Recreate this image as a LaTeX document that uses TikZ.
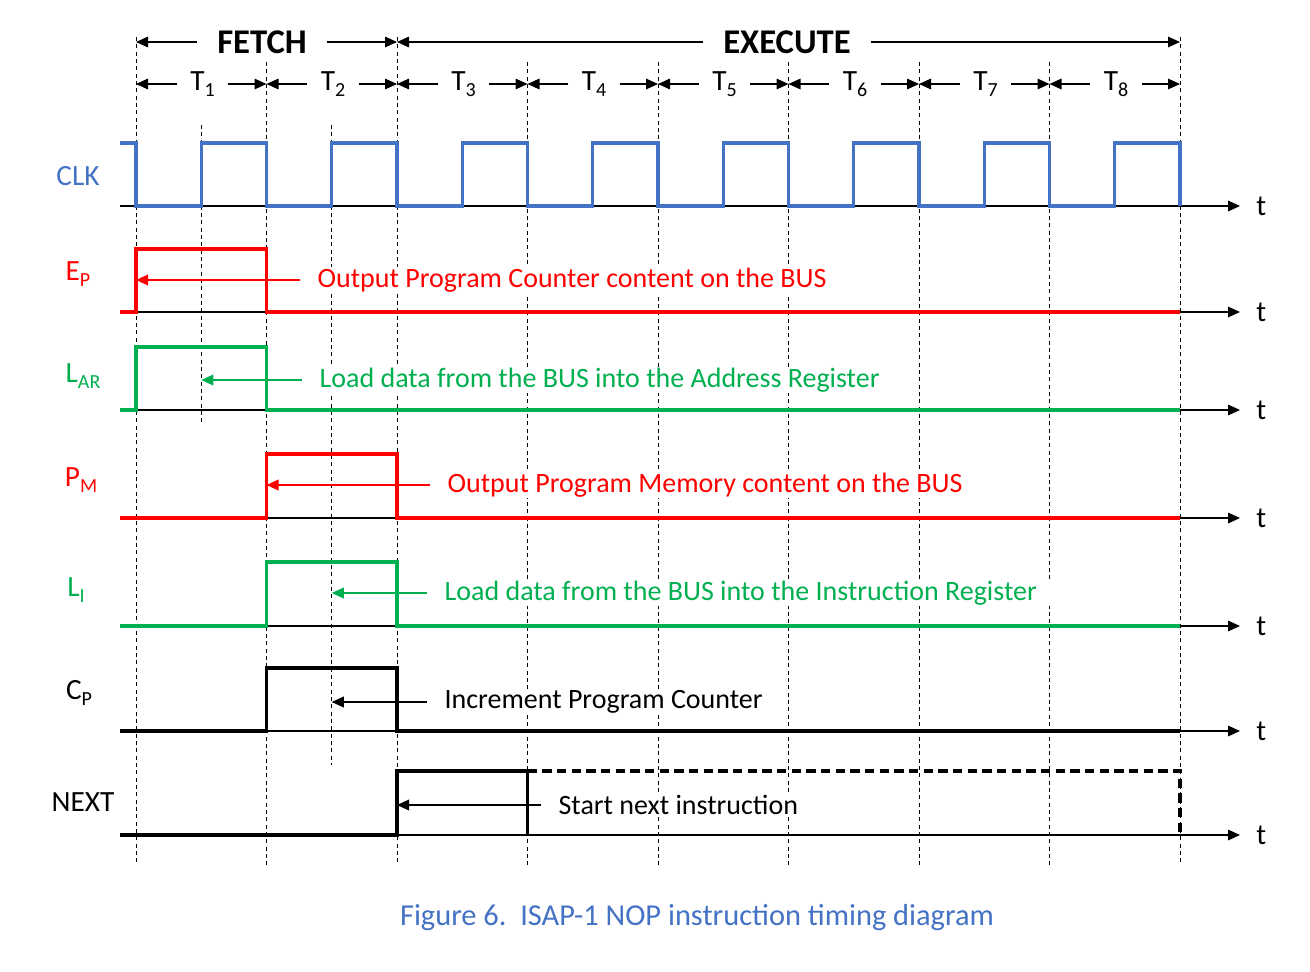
\documentclass[tikz,border=0pt]{standalone}
\usepackage{fontspec}
\setmainfont{Carlito}
\usetikzlibrary{arrows.meta}
\definecolor{clkblue}{RGB}{68,114,196}
\definecolor{sigred}{RGB}{255,0,0}
\definecolor{siggreen}{RGB}{0,176,80}
\newcommand{\lowsub}[1]{\raisebox{-0.45ex}{\fontsize{15}{16}\selectfont #1}}
\tikzset{
  gridline/.style={line width=0.6pt, dash pattern=on 3pt off 2.5pt},
  taxis/.style={line width=0.8pt, -{Triangle[length=9pt,width=8pt]}},
  wave/.style={line width=2.3pt},
  note/.style={line width=1pt, -{Triangle[length=9pt,width=8pt]}},
  span/.style={line width=0.8pt, -{Triangle[length=9pt,width=8pt]}},
  lbl/.style={font=\fontsize{22}{26}\selectfont},
  txt/.style={font=\fontsize{21}{25}\selectfont, fill=white, anchor=west, inner xsep=13pt, inner ysep=1pt},
  tlab/.style={font=\fontsize{22}{26}\selectfont, inner xsep=10pt},
  phase/.style={font=\fontsize{26}{30}\selectfont\bfseries, inner xsep=15pt},
}
\begin{document}
\begin{tikzpicture}[x=0.75pt,y=-0.75pt]
\useasboundingbox (0,0) rectangle (1310,971);
% grid of clock edges
\foreach \i in {0,...,8} \coordinate (g\i) at ({136+130.5*\i},0);
\coordinate (h0) at (201.25,0);
\coordinate (h1) at (331.75,0);
\foreach \i in {0,2,8} \draw[gridline] ({136+130.5*\i},37) -- ({136+130.5*\i},865);
\foreach \i in {1,3,4,5,6,7} \draw[gridline] ({136+130.5*\i},62) -- ({136+130.5*\i},865);
\draw[gridline] (201.25,125) -- (201.25,422);
\draw[gridline] (331.75,125) -- (331.75,765);

% phases
\node[phase] (fetch) at (262,42) {FETCH};
\draw[span] (fetch.west) -- (fetch.west -| g0);
\draw[span] (fetch.east) -- (fetch.east -| g2);
\node[phase] (exec) at (787,42) {EXECUTE};
\draw[span] (exec.west) -- (exec.west -| g2);
\draw[span] (exec.east) -- (exec.east -| g8);

% T states
\foreach \i [evaluate=\i as \j using int(\i-1)] in {1,...,8} {
  \node[tlab] (T\i) at ({136+130.5*\i-64},84) {T\lowsub{\i}};
  \draw[span] (T\i.west) -- (T\i.west -| g\j);
  \draw[span] (T\i.east) -- (T\i.east -| g\i);
}

% signal names
\node[lbl, text=clkblue] (nclk) at (78,176) {CLK};
\node[lbl, text=sigred] (nep) at (78,274) {E\lowsub{P}};
\node[lbl, text=siggreen] (nlar) at (83,376) {L\lowsub{AR}};
\node[lbl, text=sigred] (npm) at (81,480) {P\lowsub{M}};
\node[lbl, text=siggreen] (nli) at (76,590) {L\lowsub{I}};
\node[lbl] (ncp) at (79,693) {C\lowsub{P}};
\node[lbl] (nnext) at (83,802) {NEXT};

% time axes
\foreach \y/\n in {206/1,312/2,410/3,518/4,626/5,731/6,835/7} {
  \node[lbl, anchor=west, inner xsep=12pt] (t\n) at (1240,\y) {t};
  \draw[taxis] (120,\y) -- (t\n.west);
}

% waveforms
\draw[wave, clkblue] (120,143) -- (136,143) -- (136,206)
  \foreach \k in {0,...,7} { -- ({201.25+130.5*\k},206) -- ({201.25+130.5*\k},143)
  -- ({266.5+130.5*\k},143) -- ({266.5+130.5*\k},206) };
\draw[wave, sigred] (120,312) -- (136,312) -- (136,249) -- (266.5,249) -- (266.5,312) -- (1180,312);
\draw[wave, siggreen] (120,410) -- (136,410) -- (136,347) -- (266.5,347) -- (266.5,410) -- (1180,410);
\draw[wave, sigred] (120,518) -- (266.5,518) -- (266.5,454) -- (397,454) -- (397,518) -- (1180,518);
\draw[wave, siggreen] (120,626) -- (266.5,626) -- (266.5,562) -- (397,562) -- (397,626) -- (1180,626);
\draw[wave] (120,731) -- (266.5,731) -- (266.5,668) -- (397,668) -- (397,731) -- (1180,731);
\draw[wave] (120,835) -- (397,835) -- (397,771) -- (527.5,771) -- (527.5,835);
\draw[wave, dash pattern=on 7pt off 4pt] (527.5,771) -- (1180,771) -- (1180,835);

% notes
\node[txt, text=sigred] (dep) at (300,280) {Output Program Counter content on the BUS};
\draw[note, sigred] (dep.west) -- (dep.west -| g0);
\node[txt, text=siggreen] (dlar) at (302,380) {Load data from the BUS into the Address Register};
\draw[note, siggreen] (dlar.west) -- (dlar.west -| h0);
\node[txt, text=sigred] (dpm) at (430,485) {Output Program Memory content on the BUS};
\draw[note, sigred] (dpm.west) -- (dpm.west -| g1);
\node[txt, text=siggreen] (dli) at (427,593) {Load data from the BUS into the Instruction Register};
\draw[note, siggreen] (dli.west) -- (dli.west -| h1);
\node[txt] (dcp) at (427,702) {Increment Program Counter};
\draw[note] (dcp.west) -- (dcp.west -| h1);
\node[txt] (dnext) at (541,805) {Start next instruction};
\draw[note] (dnext.west) -- (dnext.west -| g2);

% caption
\node[text=clkblue, font=\fontsize{22.8}{26}\selectfont] (cap) at (697,918) {Figure 6.~~ISAP-1 NOP instruction timing diagram};
\end{tikzpicture}
\end{document}
